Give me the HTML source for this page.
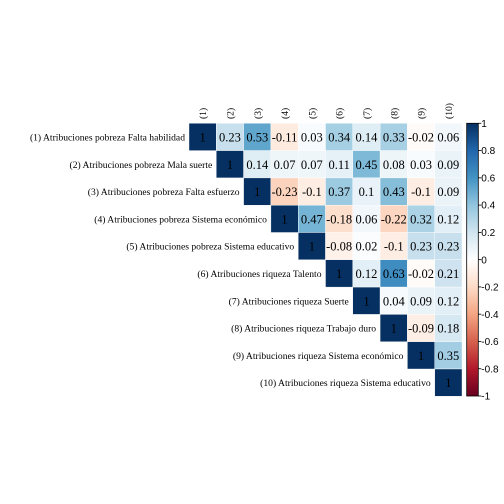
<!DOCTYPE html>
<html><head><meta charset="utf-8"><style>
html,body{margin:0;padding:0;background:#fff;}
svg{display:block;}
</style></head><body>
<svg id="chart" width="504" height="504" viewBox="0 0 504 504" xmlns="http://www.w3.org/2000/svg"></svg>
<script>
const labels = ["(1) Atribuciones pobreza Falta habilidad","(2) Atribuciones pobreza Mala suerte","(3) Atribuciones pobreza Falta esfuerzo","(4) Atribuciones pobreza Sistema económico","(5) Atribuciones pobreza Sistema educativo","(6) Atribuciones riqueza Talento","(7) Atribuciones riqueza Suerte","(8) Atribuciones riqueza Trabajo duro","(9) Atribuciones riqueza Sistema económico","(10) Atribuciones riqueza Sistema educativo"];
const colLabels = ["(1)","(2)","(3)","(4)","(5)","(6)","(7)","(8)","(9)","(10)"];
const row1 = [1,0.23,0.53,-0.11,0.03,0.34,0.14,0.33,-0.02,0.06];
const row2 = [1,0.14,0.07,0.07,0.11,0.45,0.08,0.03,0.09];
const row3 = [1,-0.23,-0.1,0.37,0.1,0.43,-0.1,0.09];
const row4 = [1,0.47,-0.18,0.06,-0.22,0.32,0.12];
const row5 = [1,-0.08,0.02,-0.1,0.23,0.23];
const row6 = [1,0.12,0.63,-0.02,0.21];
const row7 = [1,0.04,0.09,0.12];
const row8 = [1,-0.09,0.18];
const row9 = [1,0.35];
const row10 = [1];
const rows = [row1,row2,row3,row4,row5,row6,row7,row8,row9,row10];
const legendTicks = [1,0.8,0.6,0.4,0.2,0,-0.2,-0.4,-0.6,-0.8,-1];

const NS="http://www.w3.org/2000/svg";
const svg=document.getElementById('chart');
const X0=189, Y0=123.3, CW=27.3;
const palette=["#67001F","#B2182B","#D6604D","#F4A582","#FDDBC7","#FFFFFF","#D1E5F0","#92C5DE","#4393C3","#2166AC","#053061"];
function hex(h){return [parseInt(h.substr(1,2),16),parseInt(h.substr(3,2),16),parseInt(h.substr(5,2),16)];}
function color(v){
  const t=(v+1)/2*10; let i=Math.min(9,Math.floor(t)); const f=t-i;
  const a=hex(palette[i]), b=hex(palette[i+1]);
  return 'rgb('+a.map((c,k)=>Math.round(c+(b[k]-c)*f)).join(',')+')';
}
function xPos(j){return X0+j*CW;}
function yPos(i){return Y0+i*CW;}
function el(tag,attrs){const e=document.createElementNS(NS,tag);for(const k in attrs)e.setAttribute(k,attrs[k]);svg.appendChild(e);return e;}
function fmt(v){if(v===1)return "1";let s=v.toFixed(2).replace(/0+$/,'').replace(/\.$/,'');return s;}

rows.forEach((r,i)=>{
  r.forEach((v,k)=>{
    const j=i+k;
    const rc=el('rect',{x:xPos(j),y:yPos(i),width:CW,height:CW,fill:color(v),stroke:'#fff','stroke-width':0.4});
    
    
    const t=el('text',{x:xPos(j)+CW/2,y:yPos(i)+CW/2+4.5,'text-anchor':'middle','font-family':'"Liberation Serif",serif','font-size':12.5,fill:'#000'});
    t.textContent=fmt(v);
    
    
  });
  const lt=el('text',{x:xPos(i)-4,y:yPos(i)+CW/2+3.5,'text-anchor':'end','font-family':'"Liberation Serif",serif','font-size':9.6,fill:'#000'});
  lt.textContent=labels[i];
  
  
});
colLabels.forEach((c,j)=>{
  const cx=xPos(j)+CW/2+3.5, cy=119;
  const t=el('text',{x:cx,y:cy,transform:'rotate(-90 '+cx+' '+cy+')','font-family':'"Liberation Serif",serif','font-size':9.6,fill:'#000'});
  t.textContent=c;
  
  
});
const CBX=466.7, CBW=11.6, CBT=123.3, CBB=396;
const defs=el('defs',{});
const g=document.createElementNS(NS,'linearGradient');
g.setAttribute('id','cbg');g.setAttribute('x1','0');g.setAttribute('y1','0');g.setAttribute('x2','0');g.setAttribute('y2','1');
defs.appendChild(g);
palette.slice().reverse().forEach((c,k)=>{const s=document.createElementNS(NS,'stop');s.setAttribute('offset',k/10);s.setAttribute('stop-color',c);g.appendChild(s);});
const cb=el('rect',{x:CBX,y:CBT,width:CBW,height:CBB-CBT,fill:'url(#cbg)',stroke:'#000','stroke-width':0.8});


function legY(v){return CBT+(1-v)/2*(CBB-CBT);}
legendTicks.forEach(v=>{
  const y=legY(v);
  const ln=el('line',{x1:CBX+CBW,x2:CBX+CBW+3,y1:y,y2:y,stroke:'#000','stroke-width':0.8});
  
  
  const t=el('text',{x:CBX+CBW+3,y:y+3.6,'font-family':'"Liberation Sans",sans-serif','font-size':10,fill:'#000'});
  t.textContent=String(v);
  
  
});
</script>
</body></html>
